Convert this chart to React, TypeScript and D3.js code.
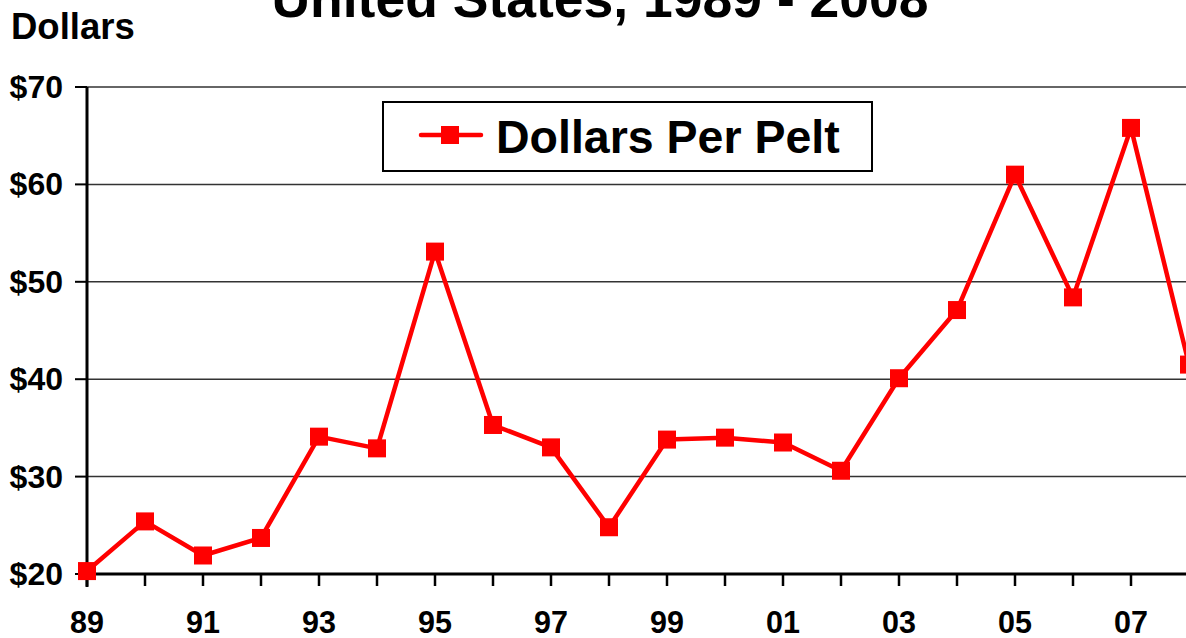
import React from "react";
import * as d3 from "d3";

const years = [1989,1990,1991,1992,1993,1994,1995,1996,1997,1998,1999,2000,2001,2002,2003,2004,2005,2006,2007,2008];
const dollarsPerPelt = [20.3,25.4,21.9,23.7,34.1,32.9,53.1,35.3,33.0,24.8,33.8,34.0,33.5,30.6,40.1,47.1,61.0,48.4,65.8,41.5];
const yTicks = [20,30,40,50,60,70];
const xLabelYears = [1989,1991,1993,1995,1997,1999,2001,2003,2005,2007];
const title = "United States, 1989 - 2008";
const yAxisTitle = "Dollars";
const seriesName = "Dollars Per Pelt";

export default function App() {
  const W = 1186, H = 638;
  const x = d3.scaleLinear().domain([1989, 2008]).range([87, 1189]);
  const y = d3.scaleLinear().domain([20, 70]).range([574, 87]);
  const line = d3.line<number>().x((_, i) => x(years[i])).y((d) => y(d));
  const font = "Arial, 'Liberation Sans', Helvetica, sans-serif";
  const red = "#FF0000";
  return (
    <svg width={W} height={H} style={{ position: "absolute", left: 0, top: 0 }} fontFamily={font}>
      <rect width={W} height={H} fill="#fff" />
      <text x={600} y={17} textAnchor="middle" fontSize={53.5} fontWeight="bold">{title}</text>
      <text x={11} y={39} fontSize={36.5} fontWeight="bold">{yAxisTitle}</text>
      {yTicks.filter(t => t > 20).map(t => (
        <line key={"g" + t} x1={87} x2={W} y1={y(t)} y2={y(t)} stroke="#333" strokeWidth={1.5} />
      ))}
      {yTicks.map(t => (
        <g key={"yt" + t}>
          <line x1={75} x2={87} y1={y(t)} y2={y(t)} stroke="#000" strokeWidth={2} />
          <text x={63} y={y(t) + 11} textAnchor="end" fontSize={32} fontWeight="bold">${t}</text>
        </g>
      ))}
      {years.map(yr => (
        <line key={"xt" + yr} x1={x(yr)} x2={x(yr)} y1={574} y2={586} stroke="#000" strokeWidth={2.5} />
      ))}
      {xLabelYears.map(yr => (
        <text key={"xl" + yr} x={x(yr)} y={633} textAnchor="middle" fontSize={30.5} fontWeight="bold">
          {String(yr).slice(2)}
        </text>
      ))}
      <line x1={87} x2={87} y1={87} y2={587} stroke="#000" strokeWidth={3} />
      <line x1={86} x2={W} y1={574} y2={574} stroke="#000" strokeWidth={3} />
      <path d={line(dollarsPerPelt) || ""} fill="none" stroke={red} strokeWidth={4.5} strokeLinejoin="round" />
      {dollarsPerPelt.map((v, i) => (
        <rect key={"m" + i} x={x(years[i]) - 9} y={y(v) - 9} width={18} height={18} fill={red} />
      ))}
      <rect x={383} y={102} width={489} height={69} fill="#fff" stroke="#000" strokeWidth={2} />
      <line x1={421} x2={481} y1={135} y2={135} stroke={red} strokeWidth={4.5} strokeLinecap="round" />
      <rect x={441} y={126} width={18} height={18} fill={red} />
      <text x={496} y={153} fontSize={46.5} fontWeight="bold">{seriesName}</text>
    </svg>
  );
}
